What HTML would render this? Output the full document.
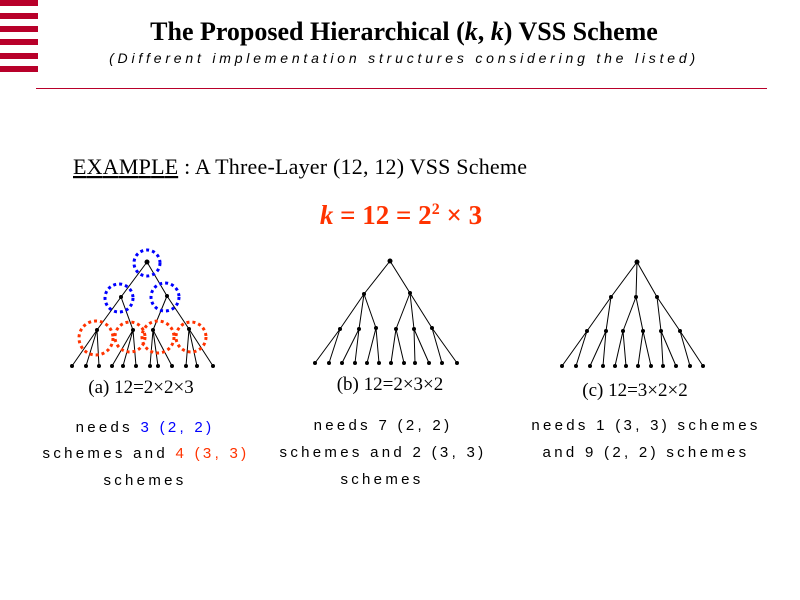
<!DOCTYPE html>
<html><head><style>
body{margin:0;width:800px;height:600px;background:#fff;overflow:hidden}
svg{display:block}
.m{font-family:"Liberation Sans",sans-serif;font-size:15px;letter-spacing:3.3px}
</style></head><body>
<svg width="800" height="600" xmlns="http://www.w3.org/2000/svg">
<g fill="#b8002a">
<rect x="0" y="0" width="38" height="6"/><rect x="0" y="13" width="38" height="6"/><rect x="0" y="26" width="38" height="6"/><rect x="0" y="39" width="38" height="6"/><rect x="0" y="53" width="38" height="6"/><rect x="0" y="66" width="38" height="6"/>
<rect x="36" y="88" width="731" height="1"/>
</g>
<text x="404" y="40" text-anchor="middle" font-family="Liberation Serif,serif" font-weight="bold" font-size="26">The Proposed Hierarchical (<tspan font-style="italic">k</tspan>, <tspan font-style="italic">k</tspan>) VSS Scheme</text>
<text x="404" y="63" text-anchor="middle" font-family="Liberation Sans,sans-serif" font-style="italic" font-size="14" letter-spacing="3.8">(Different implementation structures considering the listed)</text>
<text x="73" y="174" font-family="Liberation Serif,serif" font-size="22" textLength="454"><tspan text-decoration="underline">EXAMPLE</tspan> : A Three-Layer (12, 12) VSS Scheme</text>
<text x="401" y="224" text-anchor="middle" font-family="Liberation Serif,serif" font-weight="bold" font-size="27" fill="#ff3300"><tspan font-style="italic">k</tspan> = 12 = 2<tspan font-size="16" dy="-10">2</tspan><tspan dy="10"> × 3</tspan></text>

<g stroke="#000" stroke-width="1" fill="none">
<path d="M147 262L121 297M147 262L167 296M121 297L97 330M121 297L133 330M167 296L153 330M167 296L189 329
M97 330L72 366M97 330L86 366M97 330L99 366M133 330L112 366M133 330L123 366M133 330L136 366
M153 330L150 366M153 330L158 366M153 330L172 366M189 329L186 366M189 329L197 366M189 329L213 366"/>
<path d="M390 261L364 294M390 261L410 293M364 294L340 329M364 294L359 329M364 294L376 328M410 293L396 329M410 293L414 329M410 293L432 328
M340 329L315 363M340 329L329 363M359 329L342 363M359 329L355 363M376 328L367 363M376 328L379 363
M396 329L391 363M396 329L404 363M414 329L415 363M414 329L429 363M432 328L442 363M432 328L457 363"/>
<path d="M637 262L611 297M637 262L636 297M637 262L657 297M611 297L587 331M611 297L606 331M636 297L623 331M636 297L643 331M657 297L661 331M657 297L680 331
M587 331L562 366M587 331L576 366M606 331L590 366M606 331L603 366M623 331L615 366M623 331L626 366
M643 331L638 366M643 331L651 366M661 331L663 366M661 331L676 366M680 331L690 366M680 331L703 366"/>
</g>
<g fill="#000">
<circle cx="147" cy="262" r="2.5"/><circle cx="121" cy="297" r="2"/><circle cx="167" cy="296" r="2"/><circle cx="97" cy="330" r="2"/><circle cx="133" cy="330" r="2"/><circle cx="153" cy="330" r="2"/><circle cx="189" cy="329" r="2"/>
<circle cx="72" cy="366" r="2"/><circle cx="86" cy="366" r="2"/><circle cx="99" cy="366" r="2"/><circle cx="112" cy="366" r="2"/><circle cx="123" cy="366" r="2"/><circle cx="136" cy="366" r="2"/><circle cx="150" cy="366" r="2"/><circle cx="158" cy="366" r="2"/><circle cx="172" cy="366" r="2"/><circle cx="186" cy="366" r="2"/><circle cx="197" cy="366" r="2"/><circle cx="213" cy="366" r="2"/>
<circle cx="390" cy="261" r="2.5"/><circle cx="364" cy="294" r="2"/><circle cx="410" cy="293" r="2"/><circle cx="340" cy="329" r="2"/><circle cx="359" cy="329" r="2"/><circle cx="376" cy="328" r="2"/><circle cx="396" cy="329" r="2"/><circle cx="414" cy="329" r="2"/><circle cx="432" cy="328" r="2"/>
<circle cx="315" cy="363" r="2"/><circle cx="329" cy="363" r="2"/><circle cx="342" cy="363" r="2"/><circle cx="355" cy="363" r="2"/><circle cx="367" cy="363" r="2"/><circle cx="379" cy="363" r="2"/><circle cx="391" cy="363" r="2"/><circle cx="404" cy="363" r="2"/><circle cx="415" cy="363" r="2"/><circle cx="429" cy="363" r="2"/><circle cx="442" cy="363" r="2"/><circle cx="457" cy="363" r="2"/>
<circle cx="637" cy="262" r="2.5"/><circle cx="611" cy="297" r="2"/><circle cx="636" cy="297" r="2"/><circle cx="657" cy="297" r="2"/><circle cx="587" cy="331" r="2"/><circle cx="606" cy="331" r="2"/><circle cx="623" cy="331" r="2"/><circle cx="643" cy="331" r="2"/><circle cx="661" cy="331" r="2"/><circle cx="680" cy="331" r="2"/>
<circle cx="562" cy="366" r="2"/><circle cx="576" cy="366" r="2"/><circle cx="590" cy="366" r="2"/><circle cx="603" cy="366" r="2"/><circle cx="615" cy="366" r="2"/><circle cx="626" cy="366" r="2"/><circle cx="638" cy="366" r="2"/><circle cx="651" cy="366" r="2"/><circle cx="663" cy="366" r="2"/><circle cx="676" cy="366" r="2"/><circle cx="690" cy="366" r="2"/><circle cx="703" cy="366" r="2"/>
</g>
<g fill="none" stroke-width="3" stroke-dasharray="3,3">
<g stroke="#0000ff"><circle cx="147" cy="263" r="13"/><circle cx="119" cy="298" r="14"/><circle cx="165" cy="297" r="14"/></g>
<g stroke="#ff3300"><circle cx="96" cy="338" r="17"/><circle cx="130" cy="337" r="15"/><circle cx="158" cy="337" r="16"/><circle cx="191" cy="337" r="15"/></g>
</g>
<g font-family="Liberation Serif,serif" font-size="19" text-anchor="middle">
<text x="141" y="393">(a) 12=2×2×3</text>
<text x="390" y="390">(b) 12=2×3×2</text>
<text x="635" y="396">(c) 12=3×2×2</text>
</g>
<g class="m" text-anchor="middle">
<text x="145" y="432">needs <tspan fill="#0000ff">3 (2, 2)</tspan></text>
<text x="146" y="458">schemes and <tspan fill="#ff3300">4 (3, 3)</tspan></text>
<text x="145" y="485">schemes</text>
<text x="383" y="430">needs 7 (2, 2)</text>
<text x="383" y="457">schemes and 2 (3, 3)</text>
<text x="382" y="484">schemes</text>
<text x="646" y="430">needs 1 (3, 3) schemes</text>
<text x="646" y="457">and 9 (2, 2) schemes</text>
</g>
</svg>
</body></html>
